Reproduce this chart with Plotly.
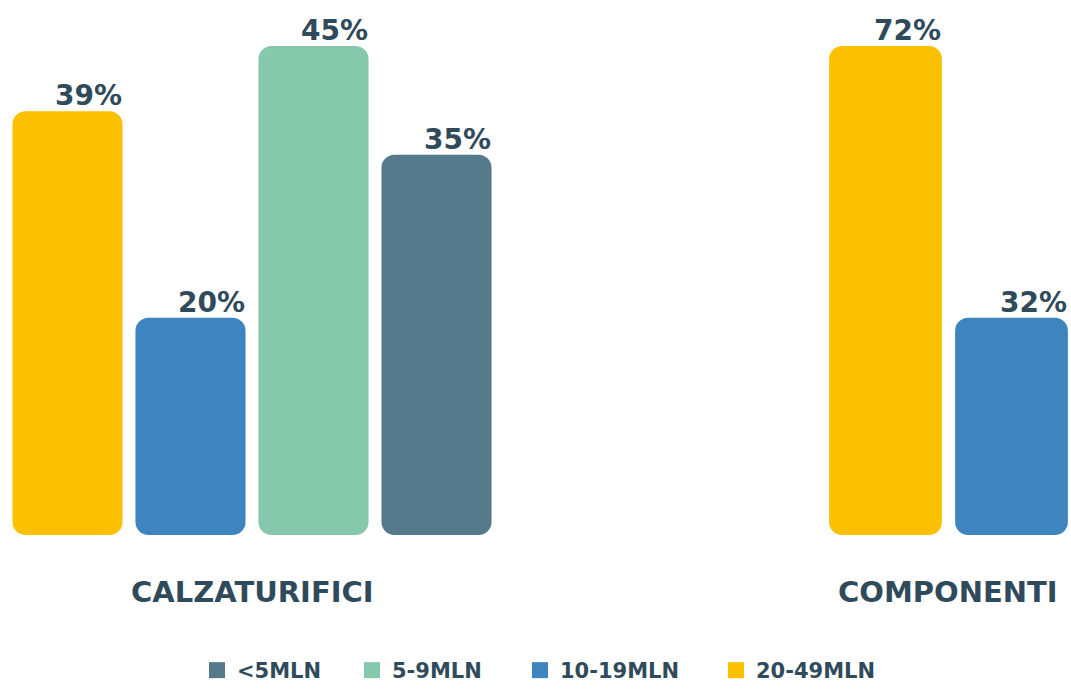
import plotly.graph_objects as go

# Series (legend order) and their colours
series = ["<5MLN", "5-9MLN", "10-19MLN", "20-49MLN"]
series_colors = ["#557a8b", "#85c8ab", "#3e85c0", "#fbc000"]

# Groups and their bars (left to right)
groups = ["CALZATURIFICI", "COMPONENTI"]
calz_series = ["20-49MLN", "10-19MLN", "5-9MLN", "<5MLN"]
calz_values = [39, 20, 45, 35]
comp_series = ["20-49MLN", "10-19MLN"]
comp_values = [72, 32]

TEXT = "#2f4b5b"
FONT = "DejaVu Sans"
color_of = dict(zip(series, series_colors))
BAR_W = 0.895
RADIUS = 13

W, H = 1071, 691
M_T, M_B = 46, 156

fig = go.Figure()


def add_group(names, values, xref, yref):
    cols = [color_of[n] for n in names]
    xs = list(range(len(values)))
    # explicit base of 0 so both ends of every bar are rounded
    fig.add_trace(go.Bar(
        x=xs, y=values, base=[0 for _ in values],
        width=BAR_W, marker=dict(color=cols, line=dict(width=0), cornerradius=RADIUS),
        xaxis=xref, yaxis=yref, showlegend=False,
        hovertemplate="%{y}%<extra></extra>"))
    for i, v in enumerate(values):
        fig.add_annotation(
            x=i + BAR_W / 2, y=v, xref=xref, yref=yref,
            text=f"{v}%", showarrow=False, xanchor="right", yanchor="bottom",
            xshift=1, yshift=-3, font=dict(family=FONT, size=28, color=TEXT, weight="bold"))


add_group(calz_series, calz_values, "x", "y")
add_group(comp_series, comp_values, "x2", "y2")

# one small legend per series, laid out in a row along the bottom
legend_x = [197, 352, 520, 716]
legend_ids = ["legend", "legend2", "legend3", "legend4"]
legend_layout = {}
for name, col, lid, lx in zip(series, series_colors, legend_ids, legend_x):
    fig.add_trace(go.Scatter(
        x=[None], y=[None], mode="markers", name=name, legend=lid,
        marker=dict(symbol="square", size=18, color=col)))
    legend_layout[lid] = dict(
        orientation="h", x=lx / W, xanchor="left",
        y=0, yref="container", yanchor="bottom",
        font=dict(family=FONT, size=21, color=TEXT, weight="bold"),
        itemwidth=30, bgcolor="rgba(0,0,0,0)")

axis_off = dict(showgrid=False, zeroline=False, showticklabels=False,
                showline=False, ticks="", fixedrange=True)

left_dom = [6 / W, 498 / W]
right_dom = [822.5 / W, 1.0]
right_span = (W - 822.5) / 126.0

fig.update_layout(
    width=W, height=H,
    margin=dict(l=0, r=0, t=M_T, b=M_B),
    paper_bgcolor="white", plot_bgcolor="white",
    barmode="overlay",
    font=dict(family=FONT, color=TEXT),
    xaxis=dict(domain=left_dom, range=[-0.5, 3.5], **axis_off),
    yaxis=dict(domain=[0, 1], range=[0, max(calz_values)], **axis_off),
    xaxis2=dict(domain=right_dom, range=[-0.5, -0.5 + right_span], anchor="y2", **axis_off),
    yaxis2=dict(domain=[0, 1], range=[0, max(comp_values)], anchor="x2", **axis_off),
    **legend_layout,
)

# group labels under each block of bars
label_x = [(left_dom[0] + left_dom[1]) / 2, 948 / W]
for name, lx in zip(groups, label_x):
    fig.add_annotation(
        x=lx, y=(535 - 592) / 489, xref="paper", yref="paper",
        text=name, showarrow=False, xanchor="center", yanchor="middle",
        font=dict(family=FONT, size=29, color=TEXT, weight="bold"))

fig.write_html("out.html")
